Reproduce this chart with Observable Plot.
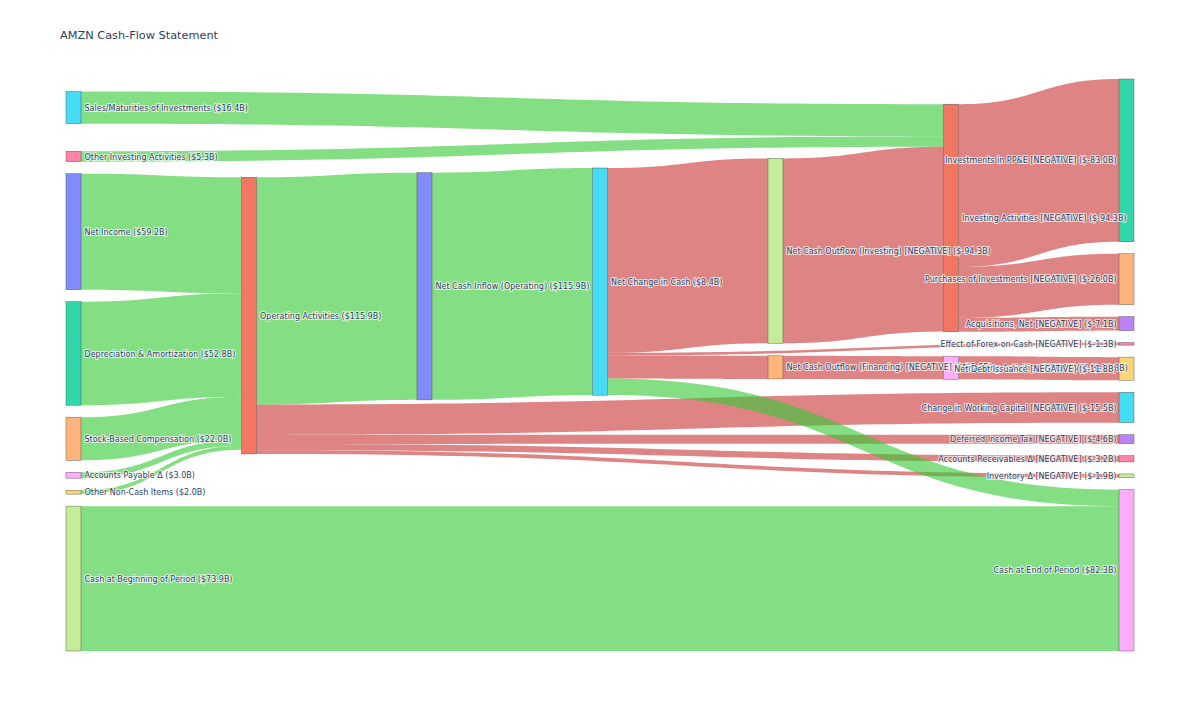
<!DOCTYPE html>
<html>
<head>
<meta charset="utf-8">
<script src="https://cdn.jsdelivr.net/npm/d3@7"></script>
<script src="https://cdn.jsdelivr.net/npm/@observablehq/plot@0.6"></script>
<style>
  html, body { margin: 0; padding: 0; background: #fff; }
  #wrap { position: relative; width: 1200px; height: 714px; }
  #title { position: absolute; left: 60px; top: 29px; font-family: "DejaVu Sans", Verdana, sans-serif;
           font-size: 11.3px; line-height: 14px; color: #2a3f5f; white-space: nowrap; }
  #chart svg { display: block; }
</style>
</head>
<body>
<div id="wrap">
  <div id="chart"></div>
  <div id="title">AMZN Cash-Flow Statement</div>
</div>
<script>
// ---------- DATA ----------
const nodeIds = [
  "sales", "otherInv", "netIncome", "da", "sbc", "ap", "otherNonCash", "cashBegin",
  "operating", "netInflowOp", "netChange", "outInvesting", "outFinancing",
  "investing", "financing",
  "ppe", "purchases", "acquisitions", "forex", "netDebt", "wc", "deferredTax", "ar", "inventory", "cashEnd"
];
const nodeLabels = [
  "Sales/Maturities of Investments ($16.4B)",
  "Other Investing Activities ($5.3B)",
  "Net Income ($59.2B)",
  "Depreciation & Amortization ($52.8B)",
  "Stock-Based Compensation ($22.0B)",
  "Accounts Payable Δ ($3.0B)",
  "Other Non-Cash Items ($2.0B)",
  "Cash at Beginning of Period ($73.9B)",
  "Operating Activities ($115.9B)",
  "Net Cash Inflow (Operating) ($115.9B)",
  "Net Change in Cash ($8.4B)",
  "Net Cash Outflow (Investing) [NEGATIVE] ($-94.3B)",
  "Net Cash Outflow (Financing) [NEGATIVE] ($-11.8B)",
  "Investing Activities [NEGATIVE] ($-94.3B)",
  "Financing Activities [NEGATIVE] ($-11.8B)",
  "Investments in PP&E [NEGATIVE] ($-83.0B)",
  "Purchases of Investments [NEGATIVE] ($-26.0B)",
  "Acquisitions, Net [NEGATIVE] ($-7.1B)",
  "Effect of Forex on Cash [NEGATIVE] ($-1.3B)",
  "Net Debt Issuance [NEGATIVE] ($-11.8B)",
  "Change in Working Capital [NEGATIVE] ($-15.5B)",
  "Deferred Income Tax [NEGATIVE] ($-4.6B)",
  "Accounts Receivables Δ [NEGATIVE] ($-3.2B)",
  "Inventory Δ [NEGATIVE] ($-1.9B)",
  "Cash at End of Period ($82.3B)"
];
const nodeColors = [
  "#19D3F3", "#FF6692", "#636EFA", "#00CC96", "#FFA15A", "#FF97FF", "#FECB52", "#B6E880",
  "#EF553B", "#636EFA", "#19D3F3", "#B6E880", "#FFA15A",
  "#EF553B", "#FF97FF",
  "#00CC96", "#FFA15A", "#AB63FA", "#FF6692", "#FECB52", "#19D3F3", "#AB63FA", "#FF6692", "#B6E880", "#FF97FF"
];

const linkSources = [
  "netIncome", "da", "sbc", "ap", "otherNonCash",
  "operating", "operating", "operating", "operating", "operating",
  "investing", "investing", "investing",
  "sales", "otherInv", "outInvesting",
  "outFinancing", "financing",
  "netInflowOp", "netChange", "netChange", "netChange",
  "cashBegin", "netChange"
];
const linkTargets = [
  "operating", "operating", "operating", "operating", "operating",
  "deferredTax", "wc", "ar", "inventory", "netInflowOp",
  "ppe", "acquisitions", "purchases",
  "investing", "investing", "investing",
  "financing", "netDebt",
  "netChange", "outInvesting", "outFinancing", "forex",
  "cashEnd", "cashEnd"
];
const linkValues = [
  59.2, 52.8, 22.0, 3.0, 2.0,
  4.6, 15.5, 3.2, 1.9, 115.9,
  83.0, 7.1, 26.0,
  16.4, 5.3, 94.3,
  11.8, 11.8,
  115.9, 94.3, 11.8, 1.3,
  73.9, 8.4
];
const linkKinds = [
  "in", "in", "in", "in", "in",
  "out", "out", "out", "out", "in",
  "out", "out", "out",
  "in", "in", "out",
  "out", "out",
  "in", "out", "out", "out",
  "in", "in"
];
const kindColors = {in: "rgb(50,200,50)", out: "rgb(200,50,50)"};

// ---------- SANKEY LAYOUT (iterative relaxation on link positions, justify alignment, node order kept) ----------
function sankeyLayout({x0, y0, x1, y1, nodeWidth, nodePadding, iterations}) {
  const nodes = nodeIds.map((id, i) => ({index: i, id, label: nodeLabels[i], color: nodeColors[i], sourceLinks: [], targetLinks: []}));
  const byId = new Map(nodes.map(n => [n.id, n]));
  const links = linkValues.map((value, i) => ({
    index: i, source: byId.get(linkSources[i]), target: byId.get(linkTargets[i]), value, color: kindColors[linkKinds[i]]
  }));
  for (const l of links) { l.source.sourceLinks.push(l); l.target.targetLinks.push(l); }
  for (const n of nodes) n.value = Math.max(d3.sum(n.sourceLinks, l => l.value), d3.sum(n.targetLinks, l => l.value));

  { let cur = new Set(nodes), next = new Set, x = 0;
    while (cur.size) { for (const n of cur) { n.depth = x; for (const {target} of n.sourceLinks) next.add(target); } x++; cur = next; next = new Set; } }

  const nCols = d3.max(nodes, d => d.depth) + 1;
  const kx = (x1 - x0 - nodeWidth) / (nCols - 1);
  const columns = Array.from({length: nCols}, () => []);
  for (const n of nodes) {
    const i = n.sourceLinks.length ? n.depth : nCols - 1;
    n.layer = i; n.x0 = x0 + i * kx; n.x1 = n.x0 + nodeWidth;
    columns[i].push(n);
  }
  const py = nodePadding;
  const ky = d3.min(columns, c => (y1 - y0 - (c.length - 1) * py) / d3.sum(c, d => d.value));
  columns.forEach(col => col.forEach((n, i) => { n.y0 = i; n.y1 = i + n.value * ky; }));
  for (const l of links) l.width = l.value * ky;

  const bySrc = (a, b) => a.source.y0 - b.source.y0 || a.index - b.index;
  const byTgt = (a, b) => a.target.y0 - b.target.y0 || a.index - b.index;
  function linkBreadths() {
    for (const n of nodes) {
      n.sourceLinks.sort(byTgt); n.targetLinks.sort(bySrc);
      let a = n.y0, b = n.y0;
      for (const l of n.sourceLinks) { l.y0 = a + l.width / 2; a += l.width; }
      for (const l of n.targetLinks) { l.y1 = b + l.width / 2; b += l.width; }
    }
  }
  const center = n => (n.y0 + n.y1) / 2;
  function resolveCollisions() {
    for (const col of columns) {
      let y = y0, node, dy;
      for (let i = 0; i < col.length; ++i) {
        node = col[i]; dy = y - node.y0;
        if (dy > 0) { node.y0 += dy; node.y1 += dy; }
        y = node.y1 + py;
      }
      dy = y - py - y1;
      if (dy > 0) {
        node.y0 -= dy; node.y1 -= dy; y = node.y0;
        for (let i = col.length - 2; i >= 0; --i) {
          node = col[i]; dy = node.y1 + py - y;
          if (dy > 0) { node.y0 -= dy; node.y1 -= dy; }
          y = node.y0;
        }
      }
    }
  }
  function relaxLR(alpha) {
    for (const col of columns) {
      linkBreadths();
      for (const n of col) {
        if (!n.targetLinks.length) continue;
        const dy = (d3.sum(n.targetLinks, l => l.y0 * l.value) / d3.sum(n.targetLinks, l => l.value) - center(n)) * alpha;
        n.y0 += dy; n.y1 += dy;
      }
    }
  }
  function relaxRL(alpha) {
    for (const col of columns.slice().reverse()) {
      linkBreadths();
      for (const n of col) {
        if (!n.sourceLinks.length) continue;
        const dy = (d3.sum(n.sourceLinks, l => l.y1 * l.value) / d3.sum(n.sourceLinks, l => l.value) - center(n)) * alpha;
        n.y0 += dy; n.y1 += dy;
      }
    }
  }
  resolveCollisions();
  for (let alpha = 1, k = iterations; k > 0; --k) {
    relaxRL(alpha *= 0.99); resolveCollisions();
    relaxLR(alpha); resolveCollisions();
  }
  linkBreadths();
  return {nodes, links, nCols};
}

// ---------- CHART ----------
const W = 1200, H = 714;
const M = {left: 66, right: 66, top: 79, bottom: 63};
const innerW = W - M.left - M.right, innerH = H - M.top - M.bottom;
const {nodes, links, nCols} = sankeyLayout({x0: 0, y0: 0, x1: innerW, y1: innerH, nodeWidth: 15, nodePadding: 12, iterations: 50});

const linkRows = [];
const STEPS = 60;
for (const l of links) {
  const xs = l.source.x1, xt = l.target.x0, xm = (xs + xt) / 2;
  for (let k = 0; k <= STEPS; k++) {
    const t = k / STEPS, u = 1 - t;
    const bx = u*u*u*xs + 3*u*u*t*xm + 3*u*t*t*xm + t*t*t*xt;
    const by = l.y0 * (u*u*u + 3*u*u*t) + l.y1 * (3*u*t*t + t*t*t);
    linkRows.push({id: l.index, x: bx, top: by - l.width / 2, bottom: by + l.width / 2, color: l.color});
  }
}
const leftLabels = nodes.filter(n => n.layer < nCols - 1);
const rightLabels = nodes.filter(n => n.layer === nCols - 1);
const font = "DejaVu Sans, Verdana, sans-serif";
const textStyle = {fill: "#2a3f5f", stroke: "white", strokeWidth: 2, strokeOpacity: 0.75, fontSize: 8, fontFamily: font};

const chart = Plot.plot({
  width: W, height: H,
  marginLeft: M.left, marginRight: M.right, marginTop: M.top, marginBottom: M.bottom,
  x: {domain: [0, innerW], range: [M.left, W - M.right], axis: null},
  y: {domain: [0, innerH], range: [M.top, H - M.bottom], axis: null},
  color: {type: "identity"},
  style: {fontFamily: font, background: "white"},
  marks: [
    Plot.area(linkRows, {x1: "x", y1: "top", y2: "bottom", z: "id", fill: "color", fillOpacity: 0.6, curve: "linear"}),
    Plot.rect(nodes, {x1: "x0", x2: "x1", y1: "y0", y2: "y1", fill: "color", fillOpacity: 0.8, stroke: "#444", strokeWidth: 0.5, strokeOpacity: 0.8}),
    Plot.text(leftLabels, {x: "x1", y: d => (d.y0 + d.y1) / 2, text: "label", textAnchor: "start", dx: 3, ...textStyle}),
    Plot.text(rightLabels, {x: "x0", y: d => (d.y0 + d.y1) / 2, text: "label", textAnchor: "end", dx: -3, ...textStyle})
  ]
});
document.getElementById("chart").appendChild(chart);
</script>
</body>
</html>
